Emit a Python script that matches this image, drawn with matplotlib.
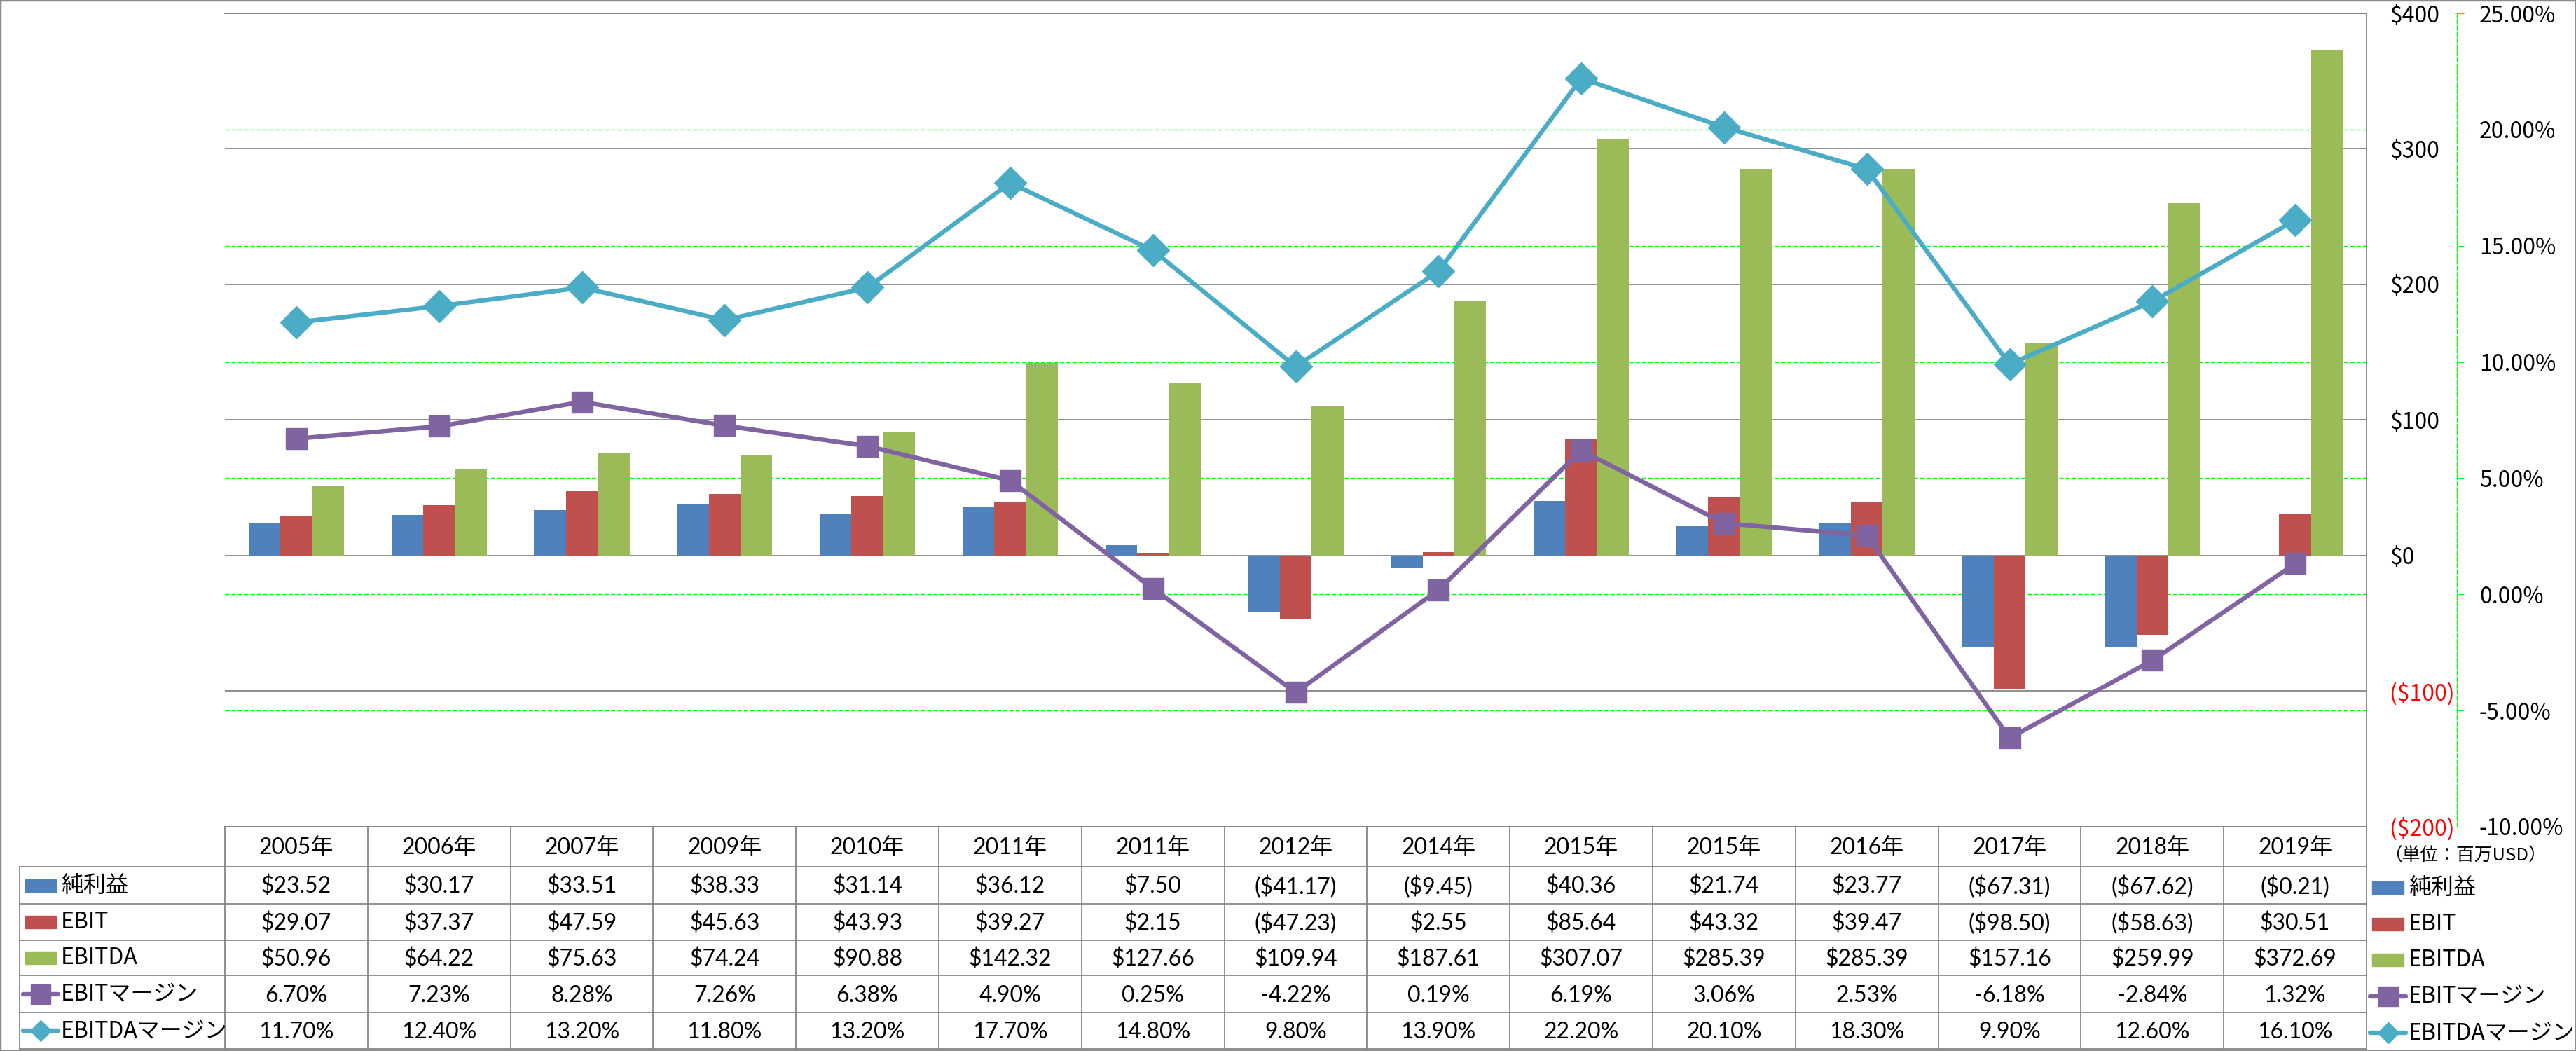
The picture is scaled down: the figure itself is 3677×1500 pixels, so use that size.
import matplotlib
matplotlib.use("Agg")
import matplotlib.pyplot as plt
from matplotlib.transforms import blended_transform_factory
from matplotlib.patches import Rectangle
from matplotlib.lines import Line2D
import numpy as np

plt.rcParams['font.family'] = ['Noto Sans CJK JP', 'DejaVu Sans']

# ---------------- data ----------------
years = ["2005年", "2006年", "2007年", "2009年", "2010年", "2011年", "2011年", "2012年",
         "2014年", "2015年", "2015年", "2016年", "2017年", "2018年", "2019年"]
net_income = [23.52, 30.17, 33.51, 38.33, 31.14, 36.12, 7.50, -41.17, -9.45, 40.36,
              21.74, 23.77, -67.31, -67.62, -0.21]
ebit = [29.07, 37.37, 47.59, 45.63, 43.93, 39.27, 2.15, -47.23, 2.55, 85.64,
        43.32, 39.47, -98.50, -58.63, 30.51]
ebitda = [50.96, 64.22, 75.63, 74.24, 90.88, 142.32, 127.66, 109.94, 187.61, 307.07,
          285.39, 285.39, 157.16, 259.99, 372.69]
ebit_margin = [6.70, 7.23, 8.28, 7.26, 6.38, 4.90, 0.25, -4.22, 0.19, 6.19,
               3.06, 2.53, -6.18, -2.84, 1.32]
ebitda_margin = [11.70, 12.40, 13.20, 11.80, 13.20, 17.70, 14.80, 9.80, 13.90, 22.20,
                 20.10, 18.30, 9.90, 12.60, 16.10]
series_names = ["純利益", "EBIT", "EBITDA", "EBITマージン", "EBITDAマージン"]
usd_ticks = [-200, -100, 0, 100, 200, 300, 400]
pct_ticks = [-10, -5, 0, 5, 10, 15, 20, 25]
unit_label = "（単位：百万USD）"

# ---------------- style ----------------
C_BLUE = "#4F81BD"
C_RED = "#C0504D"
C_GREEN = "#9BBB59"
C_PURPLE = "#8064A2"
C_CYAN = "#4BACC6"
C_GRID = "#868686"
C_LIME = "#00FF00"
NUM_FONT = ['Lato', 'Noto Sans CJK JP']
LW = 4.6

W, H = 3677, 1500
fig = plt.figure(figsize=(W / 100, H / 100), dpi=100)

L, R, T, B = 321, 3378, 19, 1180
ax = fig.add_axes([L / W, 1 - B / H, (R - L) / W, (B - T) / H])
ax2 = ax.twinx()

n = len(years)
x = np.arange(n)
bw = 0.223

ax.bar(x - bw, net_income, bw, color=C_BLUE, zorder=2)
ax.bar(x, ebit, bw, color=C_RED, zorder=2)
ax.bar(x + bw, ebitda, bw, color=C_GREEN, zorder=2)

ax.set_xlim(-0.5, n - 0.5)
ax.set_ylim(-200, 400)
ax.set_xticks([])
ax.set_yticks(usd_ticks)
ax.set_yticklabels([f"${v}" if v >= 0 else f"(${-v})" for v in usd_ticks])
ax.yaxis.tick_right()
ax.tick_params(axis='y', length=0, pad=24, labelsize=23)
for t, v in zip(ax.get_yticklabels(), usd_ticks):
    t.set_color('#FF0000' if v < 0 else 'black')
    t.set_horizontalalignment('left')
ax.grid(axis='y', color=C_GRID, lw=1.3, zorder=0)
ax.set_axisbelow(True)
ax.spines['left'].set_visible(False)
for s in ['top', 'bottom', 'right']:
    ax.spines[s].set_color(C_GRID)
    ax.spines[s].set_linewidth(1.3)

# percent axis
ax2.set_ylim(-10, 25)
ax2.set_yticks(pct_ticks)
ax2.set_yticklabels([f"{v:.2f}%" for v in pct_ticks])
ax2.tick_params(axis='y', length=7, width=0.8, color=C_LIME, pad=16, labelsize=23)
for t, v in zip(ax2.get_yticklabels(), pct_ticks):
    t.set_color('#FF0000' if v < 0 else 'black')
for s in ['top', 'bottom', 'left']:
    ax2.spines[s].set_visible(False)
ax2.spines['right'].set_position(('axes', (3507 - L) / (R - L)))
ax2.spines['right'].set_color(C_LIME)
ax2.spines['right'].set_linestyle((0, (4.3, 2.2)))
ax2.spines['right'].set_linewidth(1.0)

# green percent grid drawn on ax (behind bars)
gtrans = blended_transform_factory(ax.transAxes, ax2.transData)
for p in pct_ticks[1:-1]:
    ax.plot([0, 1], [p, p], transform=gtrans, color=C_LIME, lw=1.0,
            ls=(0, (4.3, 2.2)), zorder=1)

ax2.plot(x, ebitda_margin, color=C_CYAN, lw=LW, marker='D', ms=23,
         mec=C_CYAN, mfc=C_CYAN, zorder=3, solid_joinstyle='round')
ax2.plot(x, ebit_margin, color=C_PURPLE, lw=LW, marker='s', ms=22,
         mec=C_PURPLE, mfc=C_PURPLE, zorder=4, solid_joinstyle='round')

# ---------------- data table ----------------
ov = fig.add_axes([0, 0, 1, 1], zorder=5)
ov.set_xlim(0, W)
ov.set_ylim(H, 0)
ov.axis('off')
ov.patch.set_visible(False)
tt = blended_transform_factory(ax.transData, ov.transData)

row_edges = [1180, 1237, 1290, 1342, 1392, 1445, 1497]
line_kw = dict(color=C_GRID, lw=1.3, clip_on=False)
ov.plot([L, R], [row_edges[0]] * 2, **line_kw)
for yv in row_edges[1:]:
    ov.plot([28, R], [yv, yv], **line_kw)
ov.plot([28, 28], [row_edges[1], row_edges[-1]], **line_kw)
for i in range(n + 1):
    ov.plot([i - 0.5, i - 0.5], [row_edges[0], row_edges[-1]], transform=tt, **line_kw)

def fmt_usd(v):
    return f"${v:.2f}" if v >= 0 else f"(${-v:.2f})"

def fmt_pct(v):
    return f"{v:.2f}%"

rows = [
    [fmt_usd(v) for v in net_income],
    [fmt_usd(v) for v in ebit],
    [fmt_usd(v) for v in ebitda],
    [fmt_pct(v) for v in ebit_margin],
    [fmt_pct(v) for v in ebitda_margin],
]
centers = [(row_edges[i] + row_edges[i + 1]) / 2 for i in range(len(row_edges) - 1)]
for i, yr in enumerate(years):
    ov.text(i, centers[0] + 2, yr, transform=tt, ha='center', va='center',
            fontsize=23, family=NUM_FONT)
for r, vals in enumerate(rows):
    for i, s in enumerate(vals):
        ov.text(i, centers[r + 1] + 2, s, transform=tt, ha='center', va='center',
                fontsize=23, family=NUM_FONT)

kinds = [('bar', C_BLUE), ('bar', C_RED), ('bar', C_GREEN), ('s', C_PURPLE), ('D', C_CYAN)]

def legend_key(x0, x1, yc, kind, color):
    if kind == 'bar':
        ov.add_patch(Rectangle((x0 + 3, yc - 9), x1 - x0 - 6, 18, color=color, clip_on=False))
    else:
        ov.add_line(Line2D([x0, x1], [yc, yc], color=color, lw=LW, clip_on=False,
                           solid_capstyle='round'))
        ov.add_line(Line2D([(x0 + x1) / 2], [yc], marker=kind, ms=20 if kind == 's' else 15,
                           color=color, clip_on=False))

for r, (name, (kind, color)) in enumerate(zip(series_names, kinds)):
    yc = centers[r + 1]
    legend_key(33, 83, yc, kind, color)
    ov.text(87, yc, name, ha='left', va='center', fontsize=23)
    legend_key(3383, 3434, yc + 3, kind, color)
    ov.text(3438, yc + 3, name, ha='left', va='center', fontsize=23)

ov.text(3403, 1222, unit_label, ha='left', va='center', fontsize=18.5)

# figure border
fig.patches.append(Rectangle((0, 0), 1, 1, transform=fig.transFigure, fill=False,
                             edgecolor='#8C8C8C', lw=2.5, zorder=10))

fig.savefig("out.png", dpi=100, facecolor='white')
